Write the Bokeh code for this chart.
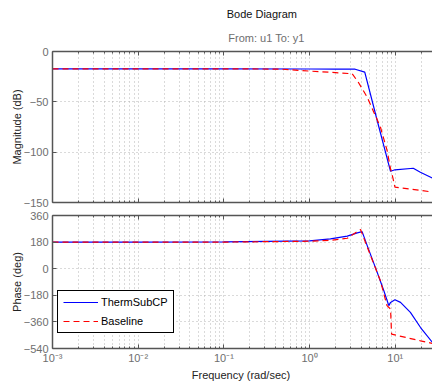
import numpy as np
from bokeh.plotting import figure
from bokeh.layouts import column
from bokeh.models import (LogAxis, FixedTicker, Range1d, Label)
from bokeh.embed import file_html
from bokeh.resources import INLINE

# ---------------- data ----------------
freq_therm_mag = [0.001, 0.01, 0.1, 1.0, 2.0, 3.4, 4.4, 6.2, 8.8, 9.9, 16.2, 19.6, 27.6]
mag_therm = [-17.2, -17.2, -17.3, -17.4, -17.5, -17.6, -20.5, -69.8, -119.0, -117.5, -116.0, -120.0, -126.0]

freq_base_mag = [0.001, 0.01, 0.1, 0.46, 1.02, 2.0, 3.14, 3.7, 4.7, 6.7, 8.0, 8.8, 9.4, 9.9, 19.6, 27.6]
mag_base = [-17.2, -17.2, -17.2, -17.5, -19.5, -21.0, -22.1, -30.5, -45.4, -75.0, -98.0, -116.5, -126.0, -134.7, -138.0, -139.7]

freq_therm_ph = [0.001, 0.01, 0.1, 1.0, 1.75, 2.75, 3.6, 4.1, 4.7, 6.15, 7.35, 8.4, 8.8, 9.9, 11.5, 15.0, 19.7, 27.2]
phase_therm = [180, 180, 181, 188, 202, 220, 242, 251, 156, -25, -149, -250, -228, -210, -228, -296, -398, -500]

freq_base_ph = [0.001, 0.01, 0.1, 1.0, 1.75, 2.75, 3.5, 3.93, 5.14, 6.7, 8.0, 8.8, 9.05, 19.7, 27.2]
phase_base = [180, 180, 180, 186, 192, 206, 247, 265, 89, -81, -250, -273, -443, -488, -506]

x_decades = [0.001, 0.01, 0.1, 1.0, 10.0]
x_tick_labels = ["10\u207b\u00b3", "10\u207b\u00b2", "10\u207b\u00b9", "10\u2070", "10\u00b9"]
mag_ticks = [0, -50, -100, -150]
mag_tick_labels = ["0", "\u221250", "\u2212100", "\u2212150"]
phase_ticks = [360, 180, 0, -180, -360, -540]
phase_tick_labels = ["360", "180", "0", "\u2212180", "\u2212360", "\u2212540"]

series_names = ["ThermSubCP", "Baseline"]
title_text = "Bode Diagram"
subtitle_text = "From: u1  To: y1"

# ---------------- style ----------------
FONT = "Liberation Sans"
AX_COL = "#555555"
TICK_COL = "#6e6e6e"
GRID_COL = "#b4b4b4"
BLUE = "#0000ff"
RED = "#ff0000"
X_START, X_END = 1e-3, 10 ** 1.434

minor = []
for d in x_decades + [100.0]:
    for m in range(2, 10):
        minor.append(d / 10 * m)
minor = [v for v in minor if X_START <= v <= X_END]


def xticker():
    return FixedTicker(ticks=x_decades, minor_ticks=minor)


def style_axis(ax, labels=True):
    ax.axis_line_color = AX_COL
    ax.axis_line_width = 1.5
    ax.major_tick_in = 4
    ax.major_tick_out = 0
    ax.major_tick_line_color = AX_COL
    ax.minor_tick_in = 2
    ax.minor_tick_out = 0
    ax.minor_tick_line_color = AX_COL
    ax.major_label_text_font = FONT
    ax.major_label_text_font_size = "11px"
    ax.major_label_text_color = TICK_COL
    ax.axis_label_text_font = FONT
    ax.axis_label_text_font_size = "11px"
    ax.axis_label_text_font_style = "normal"
    ax.axis_label_text_color = "#222222"
    if not labels:
        ax.major_label_text_font_size = "0px"
        ax.major_label_text_alpha = 0
        ax.major_label_standoff = 0


def make_panel(height, y_start, y_end, yticks, ylabels, ylabel, bottom_labels,
               border_top, border_bottom):
    p = figure(width=432, height=height, x_axis_type="log",
               x_range=Range1d(X_START, X_END), y_range=Range1d(y_start, y_end),
               output_backend="svg", toolbar_location=None, title=None,
               min_border_left=52, min_border_right=0,
               min_border_top=border_top, min_border_bottom=border_bottom)
    p.outline_line_color = None
    p.background_fill_color = "white"
    p.border_fill_color = "white"
    xa = p.xaxis[0]
    xa.ticker = xticker()
    style_axis(xa, labels=bottom_labels)
    if bottom_labels:
        xa.major_label_overrides = {v: s for v, s in zip(x_decades, x_tick_labels)}
        xa.major_label_standoff = 3
        xa.axis_label = "Frequency  (rad/sec)"
        xa.axis_label_standoff = 2
    ya = p.yaxis[0]
    ya.ticker = FixedTicker(ticks=yticks, minor_ticks=[])
    ya.major_label_overrides = {v: s for v, s in zip(yticks, ylabels)}
    style_axis(ya)
    ya.major_label_standoff = 4
    ya.axis_label = ylabel
    ya.axis_label_standoff = -2
    top = LogAxis(ticker=xticker())
    style_axis(top, labels=False)
    p.add_layout(top, "above")
    p.xgrid.grid_line_color = GRID_COL
    p.xgrid.grid_line_dash = "1 3"
    p.xgrid.minor_grid_line_color = GRID_COL
    p.xgrid.minor_grid_line_dash = "1 3"
    p.ygrid.grid_line_color = GRID_COL
    p.ygrid.grid_line_dash = "1 3"
    return p


# ---------------- title strip ----------------
pt = figure(width=432, height=44, x_range=Range1d(0, 432), y_range=Range1d(44, 0),
            output_backend="svg", toolbar_location=None, title=None,
            min_border=0)
pt.axis.visible = False
pt.grid.visible = False
pt.outline_line_color = None
pt.add_layout(Label(x=238, y=13, text=title_text, text_font=FONT,
                    text_font_size="11px", text_color="#111111",
                    text_align="center", text_baseline="middle"))
pt.add_layout(Label(x=245, y=37, text=subtitle_text, text_font=FONT,
                    text_font_size="11px", text_color="#6e6e6e",
                    text_align="center", text_baseline="middle"))

# ---------------- magnitude ----------------
p1 = make_panel(164, -150, 0, mag_ticks, mag_tick_labels, "Magnitude (dB)",
                False, 7, 6)
p1.multi_line([freq_therm_mag], [mag_therm], line_color=BLUE, line_width=1.2)
p1.multi_line([freq_base_mag], [mag_base], line_color=RED, line_width=1.2,
              line_dash="6 4")

# ---------------- phase ----------------
p2 = make_panel(175, -540, 360, phase_ticks, phase_tick_labels, "Phase (deg)",
                True, 7, 27)
p2.multi_line([freq_therm_ph], [phase_therm], line_color=BLUE, line_width=1.2,
              legend_label=series_names[0])
p2.multi_line([freq_base_ph], [phase_base], line_color=RED, line_width=1.2,
              line_dash="6 4", legend_label=series_names[1])

legend = p2.legend[0]
legend.location = (5, 15)
legend.label_text_font = FONT
legend.label_text_font_size = "11px"
legend.label_text_color = "#000000"
legend.border_line_color = "#000000"
legend.border_line_width = 1
legend.border_line_alpha = 1
legend.background_fill_color = "white"
legend.background_fill_alpha = 1
legend.glyph_width = 35
legend.glyph_height = 12
legend.label_height = 12
legend.label_standoff = 3
legend.spacing = 7
legend.padding = 5
legend.margin = 0

layout = column(pt, p1, p2, spacing=0)
open("out.html", "w").write(file_html(layout, INLINE))
